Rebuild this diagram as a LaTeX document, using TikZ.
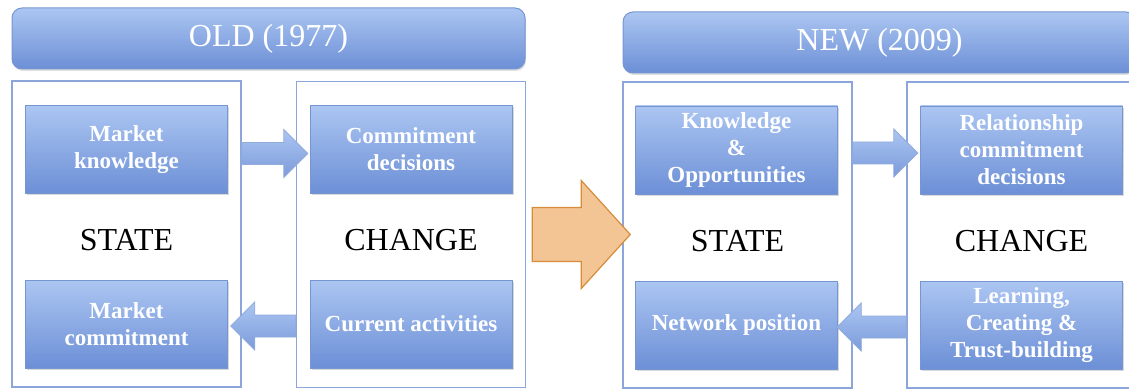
\documentclass[tikz,border=0pt]{standalone}
\usepackage{fontspec}
\setmainfont{Liberation Serif}
\usetikzlibrary{shadows,calc}
\definecolor{btop}{RGB}{172,198,242}
\definecolor{bbot}{RGB}{108,143,214}
\definecolor{bedge}{RGB}{118,150,210}
\definecolor{oedge}{RGB}{140,166,220}
\definecolor{ofill}{RGB}{243,196,148}
\definecolor{oline}{RGB}{214,140,58}
\tikzset{
  titlebar/.style={rounded corners=10pt, draw=bedge, line width=1pt,
    top color=btop, bottom color=bbot, minimum width=513pt, minimum height=61pt,
    text=white, font=\fontsize{32}{36}\selectfont,
    drop shadow={opacity=0.25, shadow xshift=1pt, shadow yshift=-2pt}},
  outerbox/.style={draw=oedge, line width=1.5pt, fill=white, minimum width=229pt, minimum height=306pt},
  innerbox/.style={draw=bedge, line width=0.8pt, top color=btop, bottom color=bbot,
    minimum width=202pt, minimum height=88pt, text=white, align=center,
    font=\bfseries\fontsize{23}{27}\selectfont,
    drop shadow={opacity=0.3, shadow xshift=1.5pt, shadow yshift=-2pt}},
  bigword/.style={font=\fontsize{32}{36}\selectfont, text=black},
  bluearrow/.style={draw=bedge!80!white, line width=0.8pt, top color=btop, bottom color=bbot!90!white},
  orangearrow/.style={draw=oline, line width=1.2pt, fill=ofill, line join=miter}
}
\begin{document}
\begin{tikzpicture}[x=1pt,y=-1pt]
\useasboundingbox (0,0) rectangle (1129,390);
\begin{scope}
\clip (0,0) rectangle (1129,390);
% titles
\node[titlebar] (told) at (268.5,38.5) {OLD (1977)};
\node[titlebar] (tnew) at (879.5,42.5) {NEW (2009)};
% outer boxes
\node[outerbox] (lstate) at (126.5,234) {};
\node[outerbox] (lchange) at (411,234.5) {};
\node[outerbox] (rstate) at (737.5,235) {};
\node[outerbox] (rchange) at (1021.5,235) {};
% words
\node[bigword] (ws1) at (126.5,240) {STATE};
\node[bigword] (wc1) at (411,240) {CHANGE};
\node[bigword] (ws2) at (737.5,241) {STATE};
\node[bigword] (wc2) at (1021.5,241) {CHANGE};
% inner boxes
\node[innerbox] (mk) at (126.5,149.5) {Market\\knowledge};
\node[innerbox] (cd) at (411,149.5) {Commitment\\decisions};
\node[innerbox] (mc) at (126.5,324) {Market\\commitment};
\node[innerbox] (ca) at (411,324) {Current activities};
\node[innerbox] (ko) at (736.5,150) {Knowledge\\\&\\Opportunities};
\node[innerbox] (rc) at (1021.5,150) {Relationship\\commitment\\decisions};
\node[innerbox] (np) at (736.5,325) {Network position};
\node[innerbox] (lc) at (1021.5,325) {Learning,\\Creating \&\\Trust-building};
% small arrows
\begin{scope}[shift={($(lstate.east |- mk.center)+(0,4)$)}]
  \path[bluearrow] (0,-11) -- (42,-11) -- (42,-24) -- (66,0) -- (42,24) -- (42,11) -- (0,11) -- cycle;
\end{scope}
\begin{scope}[shift={($(rstate.east |- ko.center)+(0,3)$)}]
  \path[bluearrow] (0,-11) -- (41,-11) -- (41,-24) -- (65,0) -- (41,24) -- (41,11) -- (0,11) -- cycle;
\end{scope}
\begin{scope}[shift={($(lchange.west |- ca.center)+(0,2)$)}, xscale=-1]
  \path[bluearrow] (0,-11) -- (41,-11) -- (41,-24) -- (65,0) -- (41,24) -- (41,11) -- (0,11) -- cycle;
\end{scope}
\begin{scope}[shift={($(rchange.west |- np.center)+(0,2)$)}, xscale=-1]
  \path[bluearrow] (0,-11) -- (45,-11) -- (45,-24) -- (69,0) -- (45,24) -- (45,11) -- (0,11) -- cycle;
\end{scope}
% big orange arrow
\begin{scope}[shift={(lchange.east)}]
  \path[orangearrow] (6,-27) -- (55,-27) -- (55,-54) -- (104,0) -- (55,54) -- (55,27) -- (6,27) -- cycle;
\end{scope}
\end{scope}
\end{tikzpicture}
\end{document}
